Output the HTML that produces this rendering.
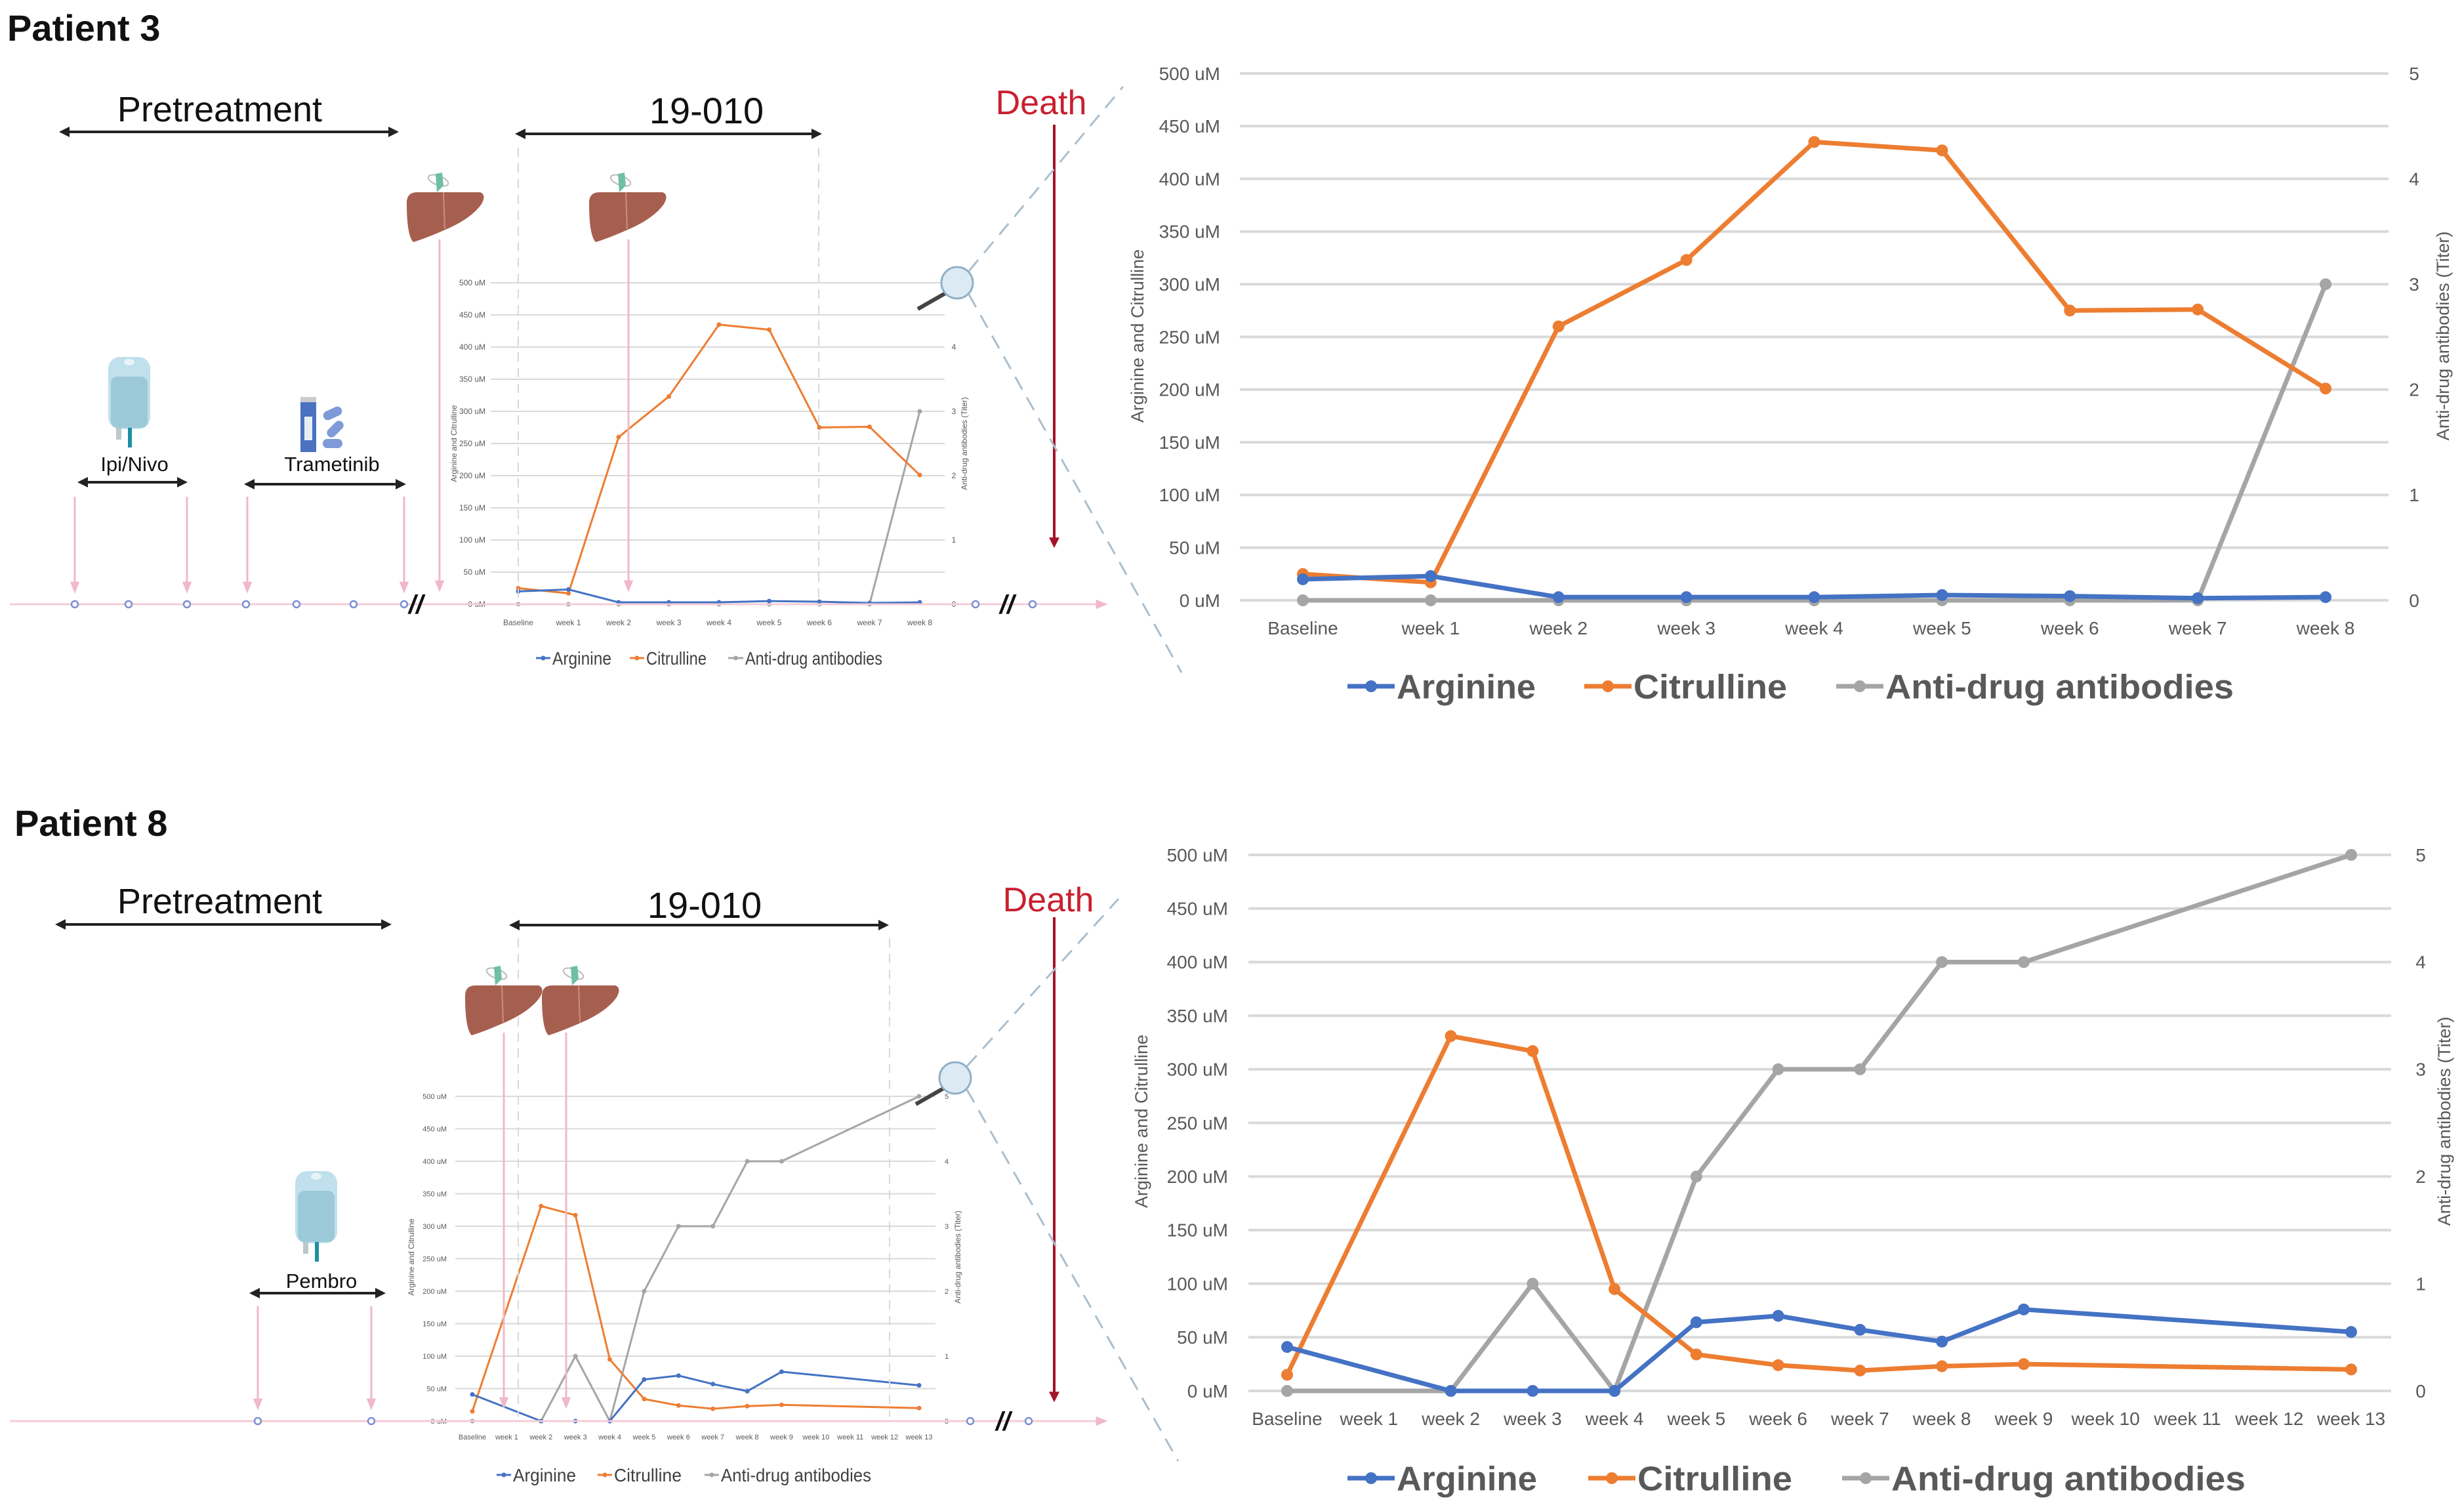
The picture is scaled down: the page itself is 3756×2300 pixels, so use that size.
<!DOCTYPE html>
<html><head><meta charset="utf-8"><style>
html,body{margin:0;padding:0;background:#fff;}
svg{display:block;font-family:"Liberation Sans",sans-serif;}
</style></head><body>
<svg id="root" width="3756" height="2300" viewBox="0 0 3756 2300" xmlns="http://www.w3.org/2000/svg">
<defs>
<marker id="ah" viewBox="0 0 10 10" refX="5" refY="5" markerWidth="4" markerHeight="4" orient="auto-start-reverse"><path d="M0,0 L10,5 L0,10 z" fill="#222"/></marker>
<marker id="ahp" viewBox="0 0 10 10" refX="8" refY="5" markerWidth="6" markerHeight="6" orient="auto"><path d="M0,1 L10,5 L0,9 z" fill="#F0B8C8"/></marker>
<marker id="ahr" viewBox="0 0 10 10" refX="8" refY="5" markerWidth="4" markerHeight="4" orient="auto"><path d="M0,0 L10,5 L0,10 z" fill="#A5132A"/></marker>
<g id="liver">
<ellipse cx="48" cy="18" rx="16" ry="7" fill="none" stroke="#bbb" stroke-width="2" transform="rotate(20 48 18)"/>
<path d="M44,8 L54,6 L56,26 L46,36 Z" fill="#6DBFA5"/>
<path d="M0,52 Q0,36 16,36 L112,36 Q122,40 114,54 Q100,74 66,90 Q30,106 10,112 Q0,102 0,52 Z" fill="#A65F4F"/>
<path d="M56,36 L58,92" stroke="#C88E80" stroke-width="2" fill="none"/>
</g>
<g id="ivbag">
<rect x="0" y="0" width="64" height="110" rx="18" fill="#BFE0EC"/>
<rect x="4" y="30" width="56" height="78" rx="10" fill="#9CC9D8"/>
<ellipse cx="32" cy="8" rx="8" ry="5" fill="#E8F4F8"/>
<rect x="12" y="108" width="8" height="18" fill="#BCC8CC"/>
<rect x="30" y="108" width="6" height="30" fill="#1E8FA3"/>
</g>
</defs>
<g id="content"></g>
</svg>
<script>
// ---- Data ----
const cats1 = ["Baseline","week 1","week 2","week 3","week 4","week 5","week 6","week 7","week 8"];
const arg1 = [20,23,3,3,3,5,4,2,3];
const cit1 = [25,17,260,323,435,427,275,276,201];
const ada1 = [0,0,0,0,0,0,0,0,3];
const cats2 = ["Baseline","week 1","week 2","week 3","week 4","week 5","week 6","week 7","week 8","week 9","week 10","week 11","week 12","week 13"];
const arg2 = [41,null,0,0,0,64,70,57,46,76,null,null,null,55];
const cit2 = [15,null,331,317,95,34,24,19,23,25,null,null,null,20];
const ada2 = [0,null,0,1,0,2,3,3,4,4,null,null,null,5];
const leftTicks = ["0 uM","50 uM","100 uM","150 uM","200 uM","250 uM","300 uM","350 uM","400 uM","450 uM","500 uM"];
const rightTicks = ["0","1","2","3","4","5"];

const NS = "http://www.w3.org/2000/svg";
const root = document.getElementById('content');
function el(tag, attrs, parent, text){
  const e = document.createElementNS(NS, tag);
  for (const k in attrs) e.setAttribute(k, attrs[k]);
  if (text !== undefined) e.textContent = text;
  (parent||root).appendChild(e);
  return e;
}
const C = {arg:"#4472C4", cit:"#ED7D31", ada:"#A5A5A5"};

function drawChart(o, cats, arg, cit, ada, prefix){
  const g = el('g', {});
  
  
  const n = cats.length;
  const xs = i => o.x0 + (o.x1 - o.x0) * i / (n - 1);
  const yL = v => o.y0 + (o.yTop - o.y0) * v / 500;
  const yR = v => o.y0 + (o.yTop - o.y0) * v / 5;
  leftTicks.forEach((t, i) => {
    const y = yL(i * 50);
    const gl = el('line', {x1:o.gl, x2:o.gr, y1:y, y2:y, stroke:"#D9D9D9", "stroke-width":o.gw}, g);
    
    
    const tl = el('text', {x:o.lx, y:y + o.fs*0.35, "text-anchor":"end", "font-size":o.fs, fill:"#595959"}, g, t);
    
    
  });
  rightTicks.forEach((t, i) => {
    const y = yR(i);
    const tr = el('text', {x:o.rx, y:y + o.fs*0.35, "text-anchor":"middle", "font-size":o.fs, fill:"#595959"}, g, t);
    
    
  });
  cats.forEach((c, i) => {
    const tx = el('text', {x:xs(i), y:o.xly, "text-anchor":"middle", "font-size":o.fs, fill:"#595959"}, g, c);
    
    
  });
  const t1 = el('text', {x:0, y:0, "text-anchor":"middle", "font-size":o.tfs, fill:"#595959", transform:`translate(${o.ltx},${o.ty}) rotate(-90)`}, g, "Arginine and Citrulline");
  
  
  const t2 = el('text', {x:0, y:0, "text-anchor":"middle", "font-size":o.tfs, fill:"#595959", transform:`translate(${o.rtx},${o.ty}) rotate(-90)`}, g, "Anti-drug antibodies (Titer)");
  
  
  const series = [[ada, yR, C.ada, 'anti-drug-antibodies'], [cit, yL, C.cit, 'citrulline'], [arg, yL, C.arg, 'arginine']];
  series.forEach(([d, sc, col, nm]) => {
    const pts = [];
    d.forEach((v, i) => { if (v !== null) pts.push([xs(i), sc(v)]); });
    const pl = el('polyline', {points: pts.map(p => p.join(',')).join(' '), fill:"none", stroke:col, "stroke-width":o.lw, "stroke-linejoin":"round", "stroke-linecap":"round"}, g);
    
    
    pts.forEach(p => {
      const m = el('circle', {cx:p[0], cy:p[1], r:o.mr, fill:col}, g);
      
      
    });
  });
  // legend
  o.leg.forEach((L, i) => {
    const col = [C.arg, C.cit, C.ada][i];
    const lab = ["Arginine","Citrulline","Anti-drug antibodies"][i];
    const lg = el('g', {}, g);
    
    
    el('line', {x1:L[0], x2:L[1], y1:o.legy, y2:o.legy, stroke:col, "stroke-width":o.lw}, lg);
    el('circle', {cx:(L[0]+L[1])/2, cy:o.legy, r:o.mr, fill:col}, lg);
    el('text', {x:L[1]+3, y:o.legy + o.lfs*0.36, "font-size":o.lfs, "font-weight":o.lfw, fill:o.lcol, textLength:L[2], lengthAdjust:"spacingAndGlyphs"}, lg, lab);
  });
}

// Main charts
drawChart({x0:1986,x1:3545,y0:915,yTop:112,gl:1890,gr:3641,gw:4,lx:1860,rx:3680,xly:967,fs:28,tfs:27,ltx:1743,rtx:3733,ty:512,lw:7,mr:9,
  legy:1046,lfs:52,lfw:"bold",lcol:"#595959",leg:[[2054,2126,212],[2415,2487,234],[2799,2871,531]]}, cats1, arg1, cit1, ada1, 'patient3-main');
drawChart({x0:1962,x1:3584,y0:2120,yTop:1303,gl:1903,gr:3645,gw:4,lx:1872,rx:3690,xly:2172,fs:28,tfs:27,ltx:1749,rtx:3735,ty:1709,lw:7,mr:9,
  legy:2253,lfs:52,lfw:"bold",lcol:"#595959",leg:[[2054,2126,214],[2421,2493,236],[2808,2880,540]]}, cats2, arg2, cit2, ada2, 'patient8-main');
// Mini charts
drawChart({x0:790,x1:1402,y0:921,yTop:431,gl:748,gr:1440,gw:2,lx:740,rx:1454,xly:953,fs:12,tfs:12,ltx:696,rtx:1474,ty:676,lw:3,mr:3.5,
  legy:1003,lfs:28,lfw:"normal",lcol:"#404040",leg:[[817,839,90],[960,982,92],[1110,1133,209]]}, cats1, arg1, cit1, ada1, 'patient3-mini');
drawChart({x0:720,x1:1401,y0:2166,yTop:1671,gl:694,gr:1426,gw:2,lx:681,rx:1443,xly:2194,fs:11,tfs:12,ltx:631,rtx:1464,ty:1916,lw:3,mr:3.5,
  legy:2248,lfs:28,lfw:"normal",lcol:"#404040",leg:[[757,779,96],[911,933,103],[1074,1096,229]]}, cats2, arg2, cit2, ada2, 'patient8-mini');

// ---- Timeline panels ----
function txt(x,y,s,size,opts,name){
  const t = el('text', Object.assign({x:x,y:y,"font-size":size,fill:"#111"}, opts||{}), root, s);
  
  
  return t;
}
function line(x1,y1,x2,y2,attrs,name){
  const l = el('line', Object.assign({x1,y1,x2,y2}, attrs));
  
  
  return l;
}
function panel(p){
  txt(p.titleX, p.titleY, p.title, 56, {"font-weight":"bold"}, 'panel-title');
  txt(p.preX, p.preY, "Pretreatment", 54, {"text-anchor":"middle"}, 'pretreatment-label');
  line(p.preA[0], p.preA[2], p.preA[1], p.preA[2], {stroke:"#222","stroke-width":4,"marker-start":"url(#ah)","marker-end":"url(#ah)"}, 'pretreatment-arrow');
  txt(p.trX, p.trY, "19-010", 56, {"text-anchor":"middle"}, 'trial-label');
  line(p.trA[0], p.trA[2], p.trA[1], p.trA[2], {stroke:"#222","stroke-width":4,"marker-start":"url(#ah)","marker-end":"url(#ah)"}, 'trial-arrow');
  p.dash.forEach(x => line(x, p.dashY[0], x, p.dashY[1], {stroke:"#D8D8D8","stroke-width":2,"stroke-dasharray":"14 10"}, 'trial-boundary'));
  txt(p.deathX, p.deathY, "Death", 52, {"text-anchor":"middle", fill:"#C8202F"}, 'death-label');
  line(1607, p.deathLine[0], 1607, p.deathLine[1], {stroke:"#A5132A","stroke-width":4,"marker-end":"url(#ahr)"}, 'death-arrow');
  line(15, p.tlY, 1685, p.tlY, {stroke:"#F4CCD8","stroke-width":3,"marker-end":"url(#ahp)"}, 'timeline-axis');
  p.livers.forEach(L => {
    const u = el('use', {href:"#liver", x:L[0], y:L[1]});
    
    
    line(L[2], L[1]+108, L[2], p.tlY-22, {stroke:"#F0B8C8","stroke-width":3,"marker-end":"url(#ahp)"}, 'biopsy-arrow');
  });
  p.arrows.forEach(x => line(x, p.arrY, x, p.tlY-20, {stroke:"#F0B8C8","stroke-width":3,"marker-end":"url(#ahp)"}, 'dose-arrow'));
  p.dots.forEach(x => {
    const c = el('circle', {cx:x, cy:p.tlY, r:5, fill:"#fff", stroke:"#7B8FD0","stroke-width":2.5});
    
    
  });
  p.breaks.forEach(x => txt(x, p.tlY+14, "//", 40, {"text-anchor":"middle","font-style":"italic","font-weight":"bold"}, 'axis-break'));
  p.drugs.forEach(d => {
    txt(d.x, d.y, d.t, 31, {"text-anchor":"middle"}, 'drug-label');
    line(d.a[0], d.a[2], d.a[1], d.a[2], {stroke:"#222","stroke-width":4,"marker-start":"url(#ah)","marker-end":"url(#ah)"}, 'drug-arrow');
  });
  line(p.mag[0]+18, p.mag[1]-18, p.zoomTop[0], p.zoomTop[1], {stroke:"#A9BFCF","stroke-width":3,"stroke-dasharray":"22 14"}, 'zoom-guide-top');
  line(p.mag[0]+18, p.mag[1]+18, p.zoomBot[0], p.zoomBot[1], {stroke:"#A9BFCF","stroke-width":3,"stroke-dasharray":"22 14"}, 'zoom-guide-bottom');
  line(p.mag[0]-18, p.mag[1]+16, p.mag[0]-60, p.mag[1]+40, {stroke:"#444","stroke-width":6}, 'magnifier-handle');
  const mc = el('circle', {cx:p.mag[0], cy:p.mag[1], r:24, fill:"#DCEAF4", stroke:"#8FB0C8","stroke-width":3});
  
  
}
panel({title:"Patient 3", titleX:11, titleY:62, preX:335, preY:185, preA:[98,600,201], trX:1077, trY:188, trA:[793,1245,204],
  dash:[790,1248], dashY:[225,925], deathX:1587, deathY:174, deathLine:[190,832], tlY:921,
  livers:[[620,257,670],[898,257,958]], arrows:[114,285,377,616], arrY:757,
  dots:[114,196,285,375,452,539,616,1487,1574], breaks:[634,1535],
  drugs:[{x:205,y:718,t:"Ipi/Nivo",a:[126,278,735]},{x:506,y:718,t:"Trametinib",a:[380,611,738]}],
  mag:[1459,431], zoomTop:[1712,132], zoomBot:[1801,1025]});
panel({title:"Patient 8", titleX:22, titleY:1274, preX:335, preY:1392, preA:[92,589,1409], trX:1074, trY:1399, trA:[784,1347,1410],
  dash:[790,1356], dashY:[1430,2160], deathX:1598, deathY:1389, deathLine:[1398,2134], tlY:2166,
  livers:[[709,1466,768],[826,1466,863]], arrows:[393,566], arrY:1991,
  dots:[393,566,1479,1568], breaks:[1529],
  drugs:[{x:490,y:1963,t:"Pembro",a:[388,580,1971]}],
  mag:[1456,1643], zoomTop:[1705,1370], zoomBot:[1796,2227]});

[[165,544],[450,1785]].forEach(p => {
  const u = el('use', {href:"#ivbag", x:p[0], y:p[1]});
  
  
});
const pill = el('g', {transform:"translate(458,605)"});


el('rect', {x:0,y:0,width:24,height:8,fill:"#ccc"}, pill);
el('rect', {x:0,y:8,width:24,height:76,fill:"#4B72C0"}, pill);
el('rect', {x:6,y:30,width:12,height:36,fill:"#E8EEF8"}, pill);
el('rect', {x:34,y:18,width:30,height:14,rx:7,fill:"#7E9BD8",transform:"rotate(-25 49 25)"}, pill);
el('rect', {x:38,y:42,width:30,height:14,rx:7,fill:"#7E9BD8",transform:"rotate(-45 53 49)"}, pill);
el('rect', {x:34,y:64,width:30,height:14,rx:7,fill:"#7E9BD8"}, pill);
</script>
</body></html>
